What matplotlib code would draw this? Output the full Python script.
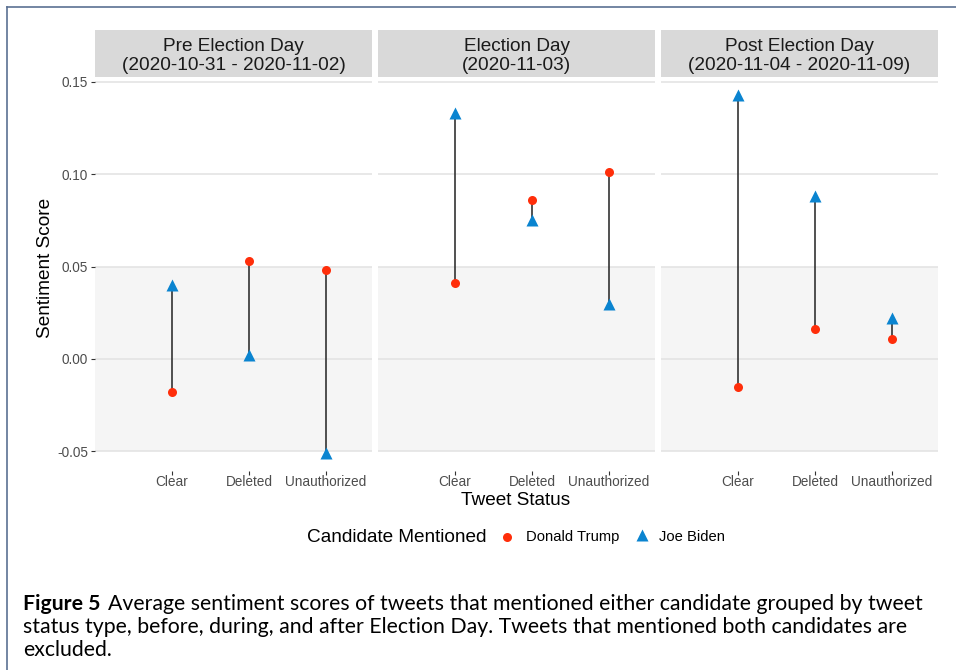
import matplotlib
matplotlib.use("Agg")
import matplotlib.pyplot as plt
from matplotlib.lines import Line2D

# data
periods = ["Pre Election Day\n(2020-10-31 - 2020-11-02)",
           "Election Day\n(2020-11-03)",
           "Post Election Day\n(2020-11-04 - 2020-11-09)"]
statuses = ["Clear", "Deleted", "Unauthorized"]
trump = [[-0.018, 0.053, 0.048],
         [0.041, 0.086, 0.101],
         [-0.015, 0.016, 0.011]]
biden = [[0.040, 0.002, -0.051],
         [0.133, 0.075, 0.030],
         [0.143, 0.088, 0.022]]
yticks = [-0.05, 0.00, 0.05, 0.10, 0.15]

RED = "#FF2E0A"
BLUE = "#0A84D0"
W, H = 956, 670

plt.rcParams['font.family'] = ['Liberation Sans', 'DejaVu Sans']
fig = plt.figure(figsize=(W / 100, H / 100), dpi=100)

def box(x0, y0, x1, y1):
    # pixel box -> figure fraction
    return [x0 / W, 1 - y1 / H, (x1 - x0) / W, (y1 - y0) / H]

# thin frame (top & left, picture is cropped at right/bottom)
fig.add_artist(Line2D([7 / W, 1], [1 - 7 / H] * 2, color="#5B7192", lw=1.2))
fig.add_artist(Line2D([7 / W] * 2, [0, 1 - 7 / H], color="#5B7192", lw=1.2))

lo = min(min(r) for r in trump + biden)
hi = max(max(r) for r in trump + biden)
pad = (hi - lo) * 0.05

panels_x = [(95, 372), (378, 655), (661, 938)]
for i, (x0, x1) in enumerate(panels_x):
    ax = fig.add_axes(box(x0, 77, x1, 471))
    ax.set_facecolor("white")
    ax.axhspan(-0.05, 0.05, color="#F5F5F5", zorder=0, lw=0)
    for y in yticks:
        ax.axhline(y, color="#E2E2E2", lw=1.1, zorder=0.5)
    xs = [1, 2, 3]
    for x, t, b in zip(xs, trump[i], biden[i]):
        ax.plot([x, x], [t, b], color="#333333", lw=1.2, zorder=2)
    ax.plot(xs, trump[i], "o", color=RED, ms=6.5, mec="none", zorder=3)
    ax.plot(xs, biden[i], "^", color=BLUE, ms=8, mec="none", zorder=3)
    ax.set_xlim(0, 3.6)
    ax.set_ylim(lo - pad, hi + pad)
    ax.set_xticks(xs)
    ax.set_xticklabels(statuses, fontsize=9.8, color="#4D4D4D")
    ax.set_yticks(yticks)
    if i == 0:
        ax.set_yticklabels([f"{v:.2f}" for v in yticks], fontsize=9.8, color="#4D4D4D")
        ax.tick_params(axis="y", length=3, color="#333333", pad=2)
    else:
        ax.tick_params(axis="y", length=0, labelleft=False)
    ax.tick_params(axis="x", length=3, color="#333333", pad=0)
    for s in ax.spines.values():
        s.set_visible(False)
    # facet strip
    st = fig.add_axes(box(x0, 30, x1, 77))
    st.set_facecolor("#D9D9D9")
    st.set_xticks([]); st.set_yticks([])
    for s in st.spines.values():
        s.set_visible(False)
    st.text(0.5, 0.45, periods[i], ha="center", va="center", fontsize=13.7,
            color="#1A1A1A", transform=st.transAxes, linespacing=1.1)

fig.text(45 / W, 1 - 268 / H, "Sentiment Score", rotation=90, ha="center",
         va="center", fontsize=13.7)
fig.text(516 / W, 1 - 505 / H, "Tweet Status", ha="center", va="baseline", fontsize=13.7)

# legend
fig.text(307 / W, 1 - 537 / H, "Candidate Mentioned", ha="left", va="center", fontsize=13.7)
fig.add_artist(Line2D([507 / W], [1 - 537 / H], marker="o", color=RED, ms=6.5, mec="none", ls="none"))
fig.text(526 / W, 1 - 537 / H, "Donald Trump", ha="left", va="center", fontsize=10.6)
fig.add_artist(Line2D([642 / W], [1 - 535 / H], marker="^", color=BLUE, ms=8, mec="none", ls="none"))
fig.text(659 / W, 1 - 537 / H, "Joe Biden", ha="left", va="center", fontsize=10.6)

# caption
cap = ["Average sentiment scores of tweets that mentioned either candidate grouped by tweet",
       "status type, before, during, and after Election Day. Tweets that mentioned both candidates are",
       "excluded."]
r = fig.canvas.get_renderer()
lead = fig.text(23 / W, 1 - 604 / H, "Figure 5", fontsize=15.3, fontweight="bold",
                family="Lato", va="center")
bb = lead.get_window_extent(r)
fig.text((bb.x1 + 7) / W, 1 - 604 / H, cap[0], fontsize=15.3, family="Lato", va="center")
fig.text(23 / W, 1 - 627 / H, cap[1], fontsize=15.3, family="Lato", va="center")
fig.text(23 / W, 1 - 650 / H, cap[2], fontsize=15.3, family="Lato", va="center")

fig.savefig("out.png", dpi=100)
